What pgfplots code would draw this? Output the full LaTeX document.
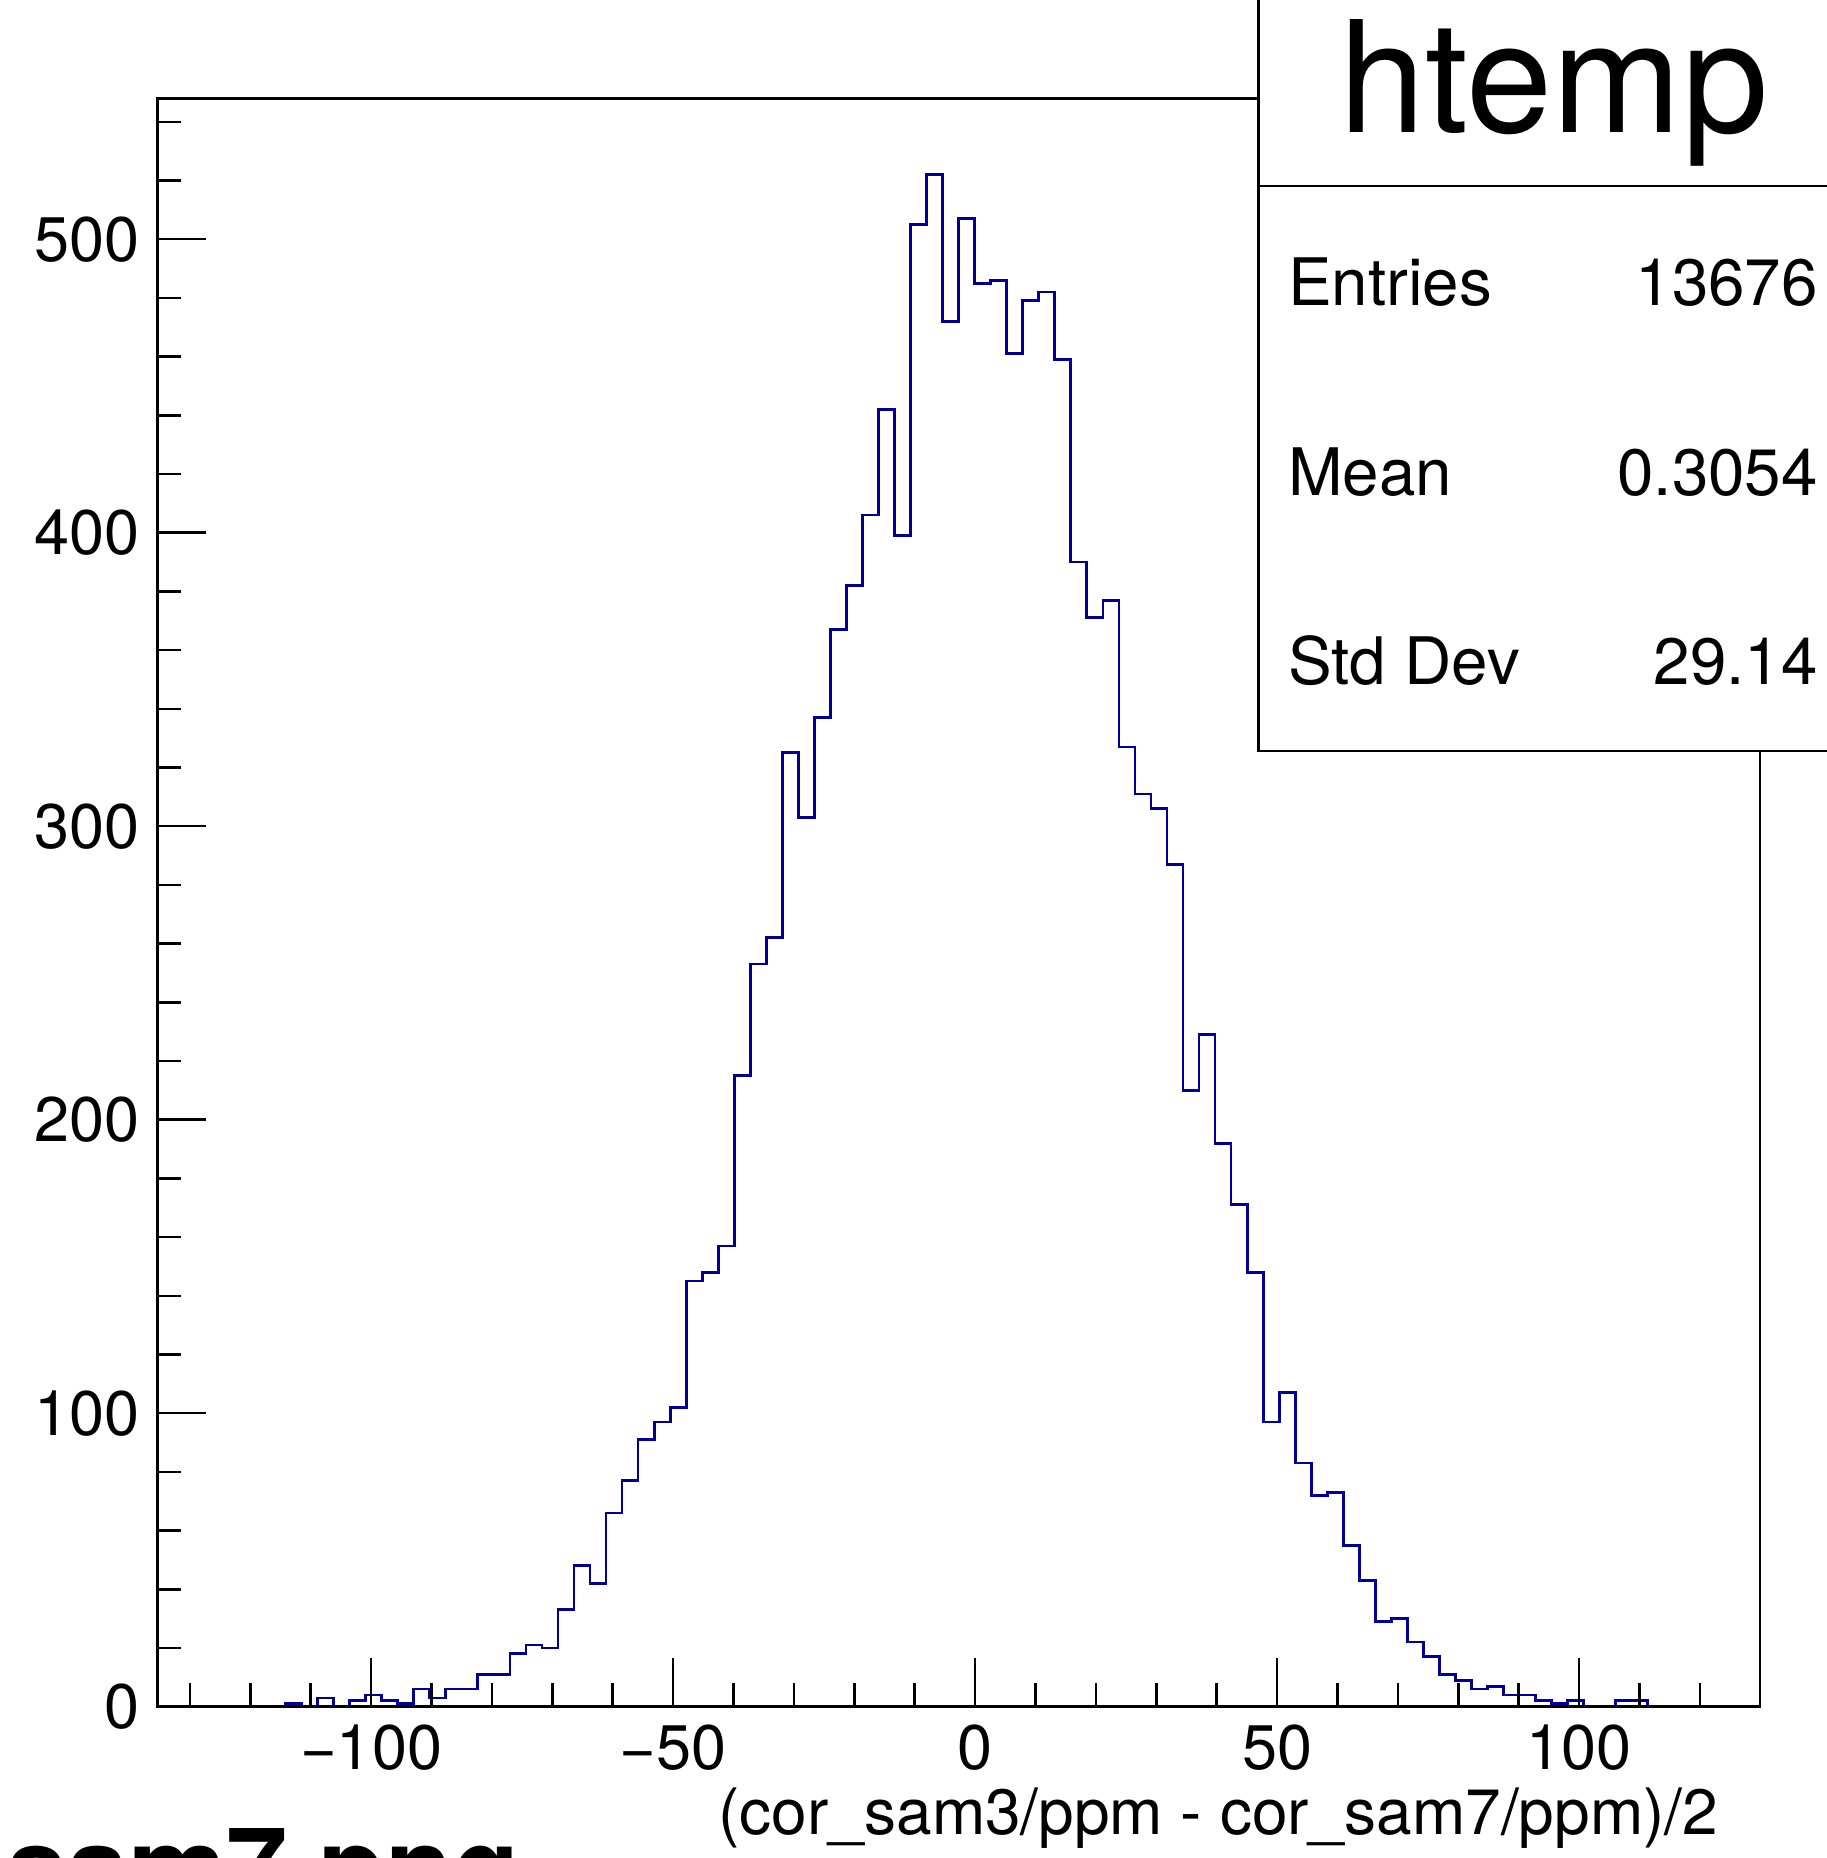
\documentclass[border=0pt]{standalone}
\usepackage{fontspec}
\setmainfont{TeX Gyre Heros}
\usepackage{pgfplots}
\usepackage{pgfplotstable}
\pgfplotsset{compat=1.18}
\definecolor{rootblue}{RGB}{0,0,153}

% lower bin edge and bin content (100 bins, last row closes the outline)
\pgfplotstableread{
lo count
-135.40 0
-132.75 0
-130.09 0
-127.44 0
-124.79 0
-122.13 0
-119.48 0
-116.83 0
-114.17 1
-111.52 0
-108.87 3
-106.21 0
-103.56 2
-100.90 4
-98.25 2
-95.60 1
-92.94 6
-90.29 3
-87.64 6
-84.98 6
-82.33 11
-79.68 11
-77.02 18
-74.37 21
-71.72 20
-69.06 33
-66.41 48
-63.76 42
-61.10 66
-58.45 77
-55.80 91
-53.14 97
-50.49 102
-47.83 145
-45.18 148
-42.53 157
-39.87 215
-37.22 253
-34.57 262
-31.91 325
-29.26 303
-26.61 337
-23.95 367
-21.30 382
-18.65 406
-15.99 442
-13.34 399
-10.69 505
-8.03 522
-5.38 472
-2.72 507
-0.07 485
2.58 486
5.24 461
7.89 479
10.54 482
13.20 459
15.85 390
18.50 371
21.16 377
23.81 327
26.46 311
29.12 306
31.77 287
34.42 210
37.08 229
39.73 192
42.38 171
45.04 148
47.69 97
50.35 107
53.00 83
55.65 72
58.31 73
60.96 55
63.61 43
66.27 29
68.92 30
71.57 22
74.23 17
76.88 11
79.53 9
82.19 6
84.84 7
87.49 4
90.15 4
92.80 2
95.45 1
98.11 2
100.76 0
103.42 0
106.07 2
108.72 2
111.38 0
114.03 0
116.68 0
119.34 0
121.99 0
124.64 0
127.30 0
129.95 0
}\htemp

\begin{document}
\begin{tikzpicture}
\useasboundingbox (0,0) rectangle (365.4pt,371.6pt);
\begin{axis}[
    at={(31.46pt,30.26pt)}, anchor=south west,
    scale only axis,
    width=320.54pt, height=321.68pt,
    xmin=-135.4, xmax=129.95,
    ymin=0, ymax=548,
    axis on top,
    axis line style={line width=0.5pt},
    tick align=inside,
    xtick pos=bottom, ytick pos=left,
    xtick={-100,-50,0,50,100},
    xticklabels={−100,−50,0,50,100},
    ytick={0,100,...,500},
    minor xtick={-130,-120,...,120},
    minor ytick={0,20,...,540},
    major tick length=9.8pt,
    minor tick length=4.8pt,
    every tick/.style={black, line width=0.5pt},
    tick label style={font=\fontsize{12.6}{15}\selectfont},
    /pgf/number format/assume math mode=true,
]
\addplot[const plot mark left, rootblue, line width=0.55pt] table[x=lo, y=count] {\htemp};
\end{axis}

% x axis title
\node[anchor=base east, inner sep=0pt, font=\fontsize{12.8}{15}\selectfont]
    at (343.8pt,4.6pt) {(cor\_sam3/ppm - cor\_sam7/ppm)/2};

% stats box, running off the right and top edges
\begin{scope}
\clip (0,0) rectangle (365.4pt,371.6pt);
\draw[fill=white, line width=0.5pt] (251.66pt,221.36pt) rectangle (380pt,380pt);
\draw[line width=0.5pt] (251.66pt,334.4pt) -- (380pt,334.4pt);
% file name cut off at the lower edge
\node[anchor=base east, inner sep=0pt, font=\fontsize{22}{26}\bfseries\selectfont]
    at (104.2pt,-9.7pt) {sam7.png};
\end{scope}
\node[anchor=base west, inner sep=0pt, font=\fontsize{31}{36}\selectfont]
    at (267.6pt,345.06pt) {htemp};
\begin{scope}[every node/.style={inner sep=0pt, font=\fontsize{13.1}{16}\selectfont}]
\node[anchor=base west] at (257.4pt,310.46pt) {Entries};
\node[anchor=base west] at (257.4pt,272.56pt) {Mean};
\node[anchor=base west] at (257.4pt,234.64pt) {Std Dev};
\node[anchor=base east] at (363.74pt,310.46pt) {13676};
\node[anchor=base east] at (363.74pt,272.56pt) {0.3054};
\node[anchor=base east] at (363.74pt,234.64pt) {29.14};
\end{scope}
\end{tikzpicture}
\end{document}
